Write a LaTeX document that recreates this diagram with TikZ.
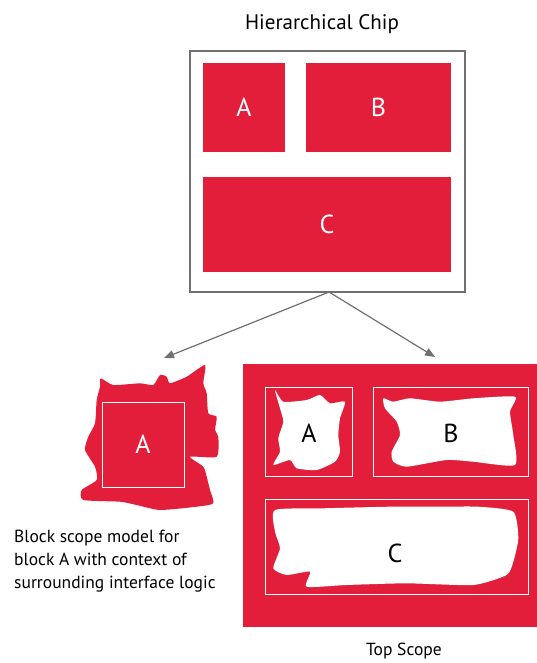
\documentclass[tikz,border=0pt]{standalone}
\usepackage{fontspec}
\setmainfont{PT Sans}
\usetikzlibrary{arrows.meta,positioning}
\definecolor{chipred}{HTML}{E31E3A}
\definecolor{linegrey}{HTML}{707070}

\begin{document}
\begin{tikzpicture}[x=1pt,y=-1pt,
      blk/.style={fill=chipred,text=white,inner sep=0pt,font=\fontsize{26}{26}\selectfont},
      frame/.style={draw=white,line width=0.8pt,inner sep=0pt},
      lbl/.style={font=\fontsize{26}{26}\selectfont,inner sep=0pt},
      caption/.style={font=\fontsize{17.5}{23}\selectfont,inner sep=0pt},
      >={Triangle[length=10pt,width=8pt]}]
    \useasboundingbox (0,0) rectangle (537,663);
    % hierarchical chip
    \node[draw=linegrey,line width=2pt,minimum width=275pt,minimum height=241pt] (chip) at (327.5,171.5) {};
    \node[caption,font=\fontsize{21}{22}\selectfont] (title) at (322,24) {Hierarchical Chip};
    \node[blk,minimum width=82pt,minimum height=89pt] (ca) at (244,107.5) {A};
    \node[blk,minimum width=145pt,minimum height=89pt] (cb) at (378.5,107.5) {B};
    \node[blk,minimum width=248pt,minimum height=95pt] (cc) at (327,224.5) {C};
    \coordinate (split) at (329,292);
    \coordinate (blkend) at (164,358);
    \coordinate (topend) at (435,357);
    \draw[->,linegrey,line width=1.2pt] (split) -- (blkend);
    \draw[->,linegrey,line width=1.2pt] (split) -- (topend);
    % block scope model
    \fill[chipred] plot[smooth cycle,tension=0.35] coordinates {
      (100.7,378.3) (113.3,385) (140,383.3) (153.3,385) (160,375) (166.7,376.7)
      (170,383.3) (186.7,376.7) (205,365) (203.3,383.3) (206.7,393.3) (208.3,413.3)
      (216.7,416.7) (215,430) (218.3,436.7) (216.7,456.7) (190,456.7) (203.3,466.7)
      (206.7,476.7) (210,490) (213.3,503.3) (196.7,506.7) (160,510) (136.7,505)
      (120,501.7) (83.3,500) (81.7,490) (96.7,480) (95,466.7) (85,450)
      (88.3,436.7) (95,423.3) (96.7,400) (100,386.7)};
    \node[frame,text=white,minimum width=82pt,minimum height=85pt,font=\fontsize{26}{26}\selectfont] (ba) at (143,444.5) {A};
    \node[caption,align=left,anchor=north west] (bnote) at (14,530) {Block scope model for\\block A with context of\\surrounding interface logic};
    % top scope
    \node[fill=chipred,minimum width=294pt,minimum height=263pt,inner sep=0pt] (top) at (390,495.5) {};
    \node[frame,minimum width=87pt,minimum height=89pt] (ta) at (308.5,431.5) {};
    \node[frame,minimum width=155pt,minimum height=89pt] (tb) at (450.5,431.5) {};
    \node[frame,minimum width=263pt,minimum height=95pt] (tc) at (396.5,546.5) {};
    \fill[white] plot[smooth cycle,tension=0.35] coordinates {
      (275,390) (283.3,401.7) (306.7,400) (320,395) (330,403.3) (345,401.7)
      (340,418.3) (338.3,435) (340,451.7) (335,461.7) (316.7,470) (296.7,468.3)
      (290,460) (273.3,465) (280,451.7) (278.3,438.3) (283.3,421.7) (280,408.3)};
    \fill[white] plot[smooth cycle,tension=0.35] coordinates {
      (383.3,398.3) (393.3,401.7) (410,398.3) (440,401.7) (473.3,398.3) (515,396.7)
      (510,411.7) (513.3,435) (515,465) (473.3,461.7) (446.7,460) (406.7,466.7)
      (393.3,461.7) (391.7,451.7) (400,435) (396.7,421.7) (385,408.3)};
    \fill[white] plot[smooth cycle,tension=0.35] coordinates {
      (275,510) (323.3,508.3) (390,506.7) (440,506.7) (478.3,506.7) (513.3,511.7)
      (518.3,538.3) (513.3,561.7) (506.7,575) (473.3,585) (406.7,583.3) (346.7,585)
      (306.7,586.7) (310,571.7) (286.7,575) (273.3,568.3) (280,548.3) (275,531.7)};
    \node[lbl] (la) at (309,433) {A};
    \node[lbl] (lb) at (451,433) {B};
    \node[lbl] (lc) at (395,553) {C};
    \node[caption] (tnote) at (404,651) {Top Scope};
  \end{tikzpicture}
\end{document}
